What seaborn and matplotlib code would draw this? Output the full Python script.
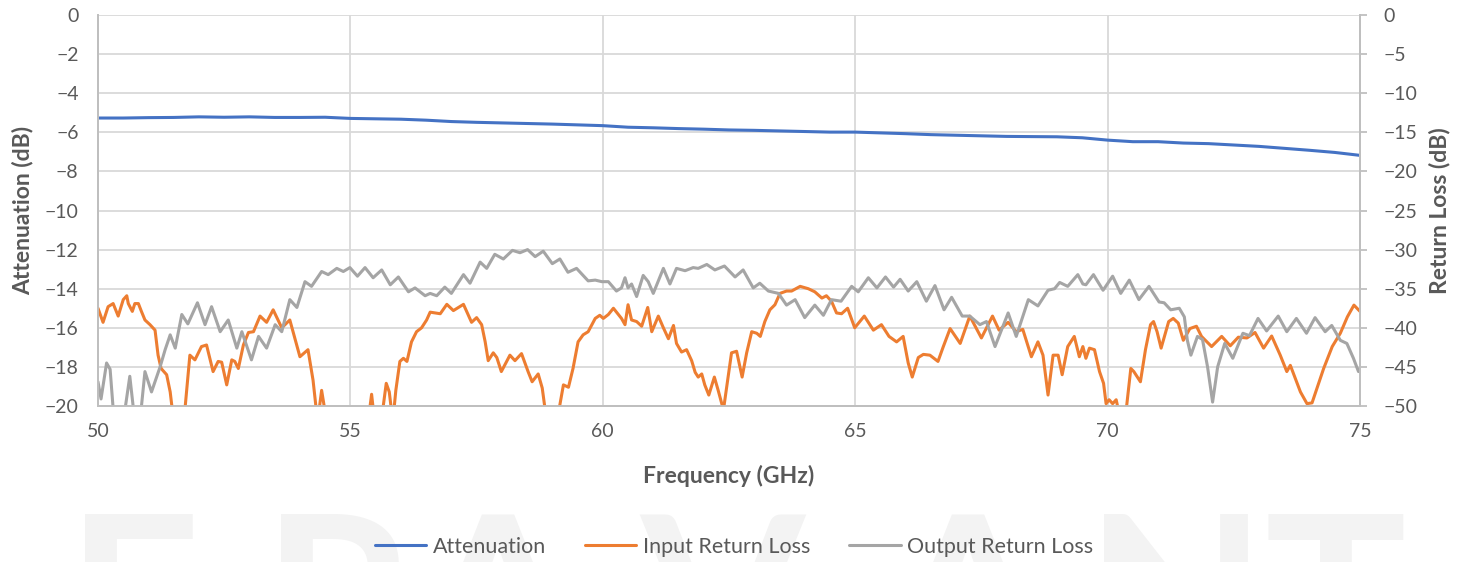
import numpy as np
import pandas as pd
import matplotlib
matplotlib.use("Agg")
import matplotlib.pyplot as plt
import seaborn as sns

# Attenuation (left axis, dB)
att_freq = [50, 50.5, 51, 51.5, 52, 52.5, 53, 53.5, 54, 54.5, 55, 55.5, 56, 56.5, 57, 57.5,
            58, 58.5, 59, 59.5, 60, 60.5, 61, 61.5, 62, 62.5, 63, 63.5, 64, 64.5, 65, 65.5,
            66, 66.5, 67, 67.5, 68, 68.5, 69, 69.5, 70, 70.5, 71, 71.5, 72, 72.5, 73, 73.5,
            74, 74.5, 75]
att_db = [-5.27, -5.27, -5.25, -5.24, -5.21, -5.23, -5.21, -5.24, -5.24, -5.23, -5.29, -5.31,
          -5.33, -5.38, -5.45, -5.49, -5.52, -5.55, -5.58, -5.62, -5.66, -5.74, -5.77, -5.81,
          -5.84, -5.88, -5.90, -5.93, -5.96, -5.99, -5.99, -6.03, -6.07, -6.12, -6.15, -6.18,
          -6.21, -6.22, -6.23, -6.28, -6.40, -6.48, -6.48, -6.55, -6.58, -6.65, -6.72, -6.82,
          -6.92, -7.03, -7.18]

# Input return loss (right axis, dB)
in_freq = [50.00, 50.10, 50.20, 50.30, 50.40, 50.50, 50.57, 50.60, 50.68, 50.73, 50.80, 50.86,
           50.93, 51.03, 51.13, 51.19, 51.25, 51.36, 51.43, 51.50, 51.70, 51.82, 51.92, 52.05,
           52.15, 52.28, 52.38, 52.45, 52.55, 52.65, 52.71, 52.78, 52.88, 52.98, 53.08, 53.21,
           53.34, 53.47, 53.64, 53.80, 54.00, 54.16, 54.26, 54.35, 54.43, 54.53, 55.35, 55.42,
           55.48, 55.61, 55.71, 55.77, 55.84, 55.90, 55.98, 56.05, 56.12, 56.21, 56.31, 56.41,
           56.51, 56.58, 56.68, 56.78, 56.91, 57.04, 57.24, 57.40, 57.50, 57.60, 57.67, 57.73,
           57.83, 57.90, 57.99, 58.16, 58.26, 58.39, 58.52, 58.60, 58.72, 58.80, 58.89, 59.09,
           59.22, 59.32, 59.41, 59.51, 59.61, 59.71, 59.85, 59.94, 60.01, 60.11, 60.21, 60.31,
           60.37, 60.44, 60.50, 60.57, 60.67, 60.77, 60.89, 60.97, 61.10, 61.20, 61.30, 61.40,
           61.46, 61.56, 61.66, 61.76, 61.83, 61.89, 61.96, 62.02, 62.10, 62.21, 62.29, 62.39,
           62.55, 62.65, 62.76, 62.85, 62.95, 63.05, 63.12, 63.21, 63.31, 63.41, 63.51, 63.64,
           63.74, 63.91, 64.07, 64.20, 64.34, 64.43, 64.53, 64.63, 64.73, 64.85, 64.99, 65.18,
           65.36, 65.52, 65.67, 65.82, 65.95, 66.05, 66.13, 66.25, 66.35, 66.48, 66.64, 66.74,
           66.88, 67.08, 67.27, 67.50, 67.72, 67.85, 68.03, 68.19, 68.32, 68.49, 68.62, 68.72,
           68.82, 68.92, 69.02, 69.10, 69.21, 69.34, 69.44, 69.51, 69.57, 69.64, 69.74, 69.84,
           69.92, 69.97, 70.03, 70.10, 70.17, 70.23, 70.36, 70.46, 70.52, 70.65, 70.75, 70.85,
           70.91, 70.98, 71.06, 71.21, 71.30, 71.40, 71.50, 71.63, 71.76, 71.86, 72.06, 72.26,
           72.43, 72.59, 72.76, 72.92, 73.09, 73.25, 73.42, 73.55, 73.62, 73.72, 73.82, 73.95,
           74.05, 74.15, 74.28, 74.45, 74.61, 74.75, 74.88, 75.00]
in_rl = [-37.5, -39.3, -37.3, -36.9, -38.5, -36.4, -35.9, -36.9, -37.9, -36.9, -36.9, -37.9,
         -39.0, -39.6, -40.3, -43.5, -45.2, -46.0, -48.2, -52.0, -52.0, -43.5, -44.1, -42.4,
         -42.2, -45.6, -44.3, -44.4, -47.3, -44.1, -44.3, -45.2, -42.2, -40.6, -40.5, -38.5,
         -39.3, -37.7, -40.0, -39.0, -43.7, -42.8, -46.7, -52.0, -48.0, -52.0, -52.0, -48.5,
         -52.0, -52.0, -47.1, -48.2, -52.0, -48.0, -44.3, -43.9, -44.3, -41.8, -40.5, -40.0,
         -39.0, -38.0, -38.1, -38.2, -37.0, -37.8, -37.0, -39.3, -38.7, -39.6, -41.8, -44.2,
         -43.2, -43.8, -45.6, -43.5, -44.2, -43.3, -45.6, -46.9, -45.9, -47.7, -52.0, -52.0,
         -47.3, -47.6, -45.2, -41.8, -40.9, -40.5, -38.8, -38.4, -38.8, -38.3, -37.5, -38.3,
         -38.8, -39.6, -37.05, -39.0, -39.2, -39.8, -37.4, -40.5, -38.5, -40.0, -41.4, -39.7,
         -42.0, -43.1, -42.8, -44.2, -45.7, -46.3, -45.9, -47.3, -48.6, -46.3, -48.1, -50.5,
         -43.2, -43.0, -46.3, -43.2, -40.5, -40.7, -41.1, -39.2, -37.7, -37.05, -35.6, -35.3,
         -35.3, -34.7, -35.0, -35.4, -36.2, -35.9, -36.6, -38.1, -38.2, -37.5, -40.0, -38.5,
         -40.3, -39.6, -41.1, -41.8, -41.1, -44.5, -46.3, -43.8, -43.4, -43.5, -44.3, -42.5,
         -40.1, -42.0, -38.5, -41.3, -38.5, -40.3, -39.3, -40.5, -40.2, -43.7, -41.8, -43.5,
         -48.6, -43.5, -43.5, -46.0, -42.4, -41.1, -43.7, -42.4, -43.9, -42.6, -42.8, -45.6,
         -47.1, -49.7, -49.2, -49.7, -49.2, -51.0, -51.0, -45.2, -45.6, -46.9, -42.8, -39.6,
         -39.2, -40.5, -42.6, -39.2, -38.8, -39.4, -41.6, -40.1, -39.8, -41.1, -42.4, -41.1,
         -42.3, -41.2, -41.3, -40.6, -42.6, -41.05, -43.5, -45.6, -44.8, -46.5, -48.2, -49.7,
         -49.6, -47.7, -45.2, -42.4, -40.7, -38.6, -37.1, -37.9]

# Output return loss (right axis, dB)
out_freq = [50.00, 50.06, 50.17, 50.24, 50.32, 50.50, 50.63, 50.73, 50.83, 50.93, 51.06, 51.23,
            51.33, 51.43, 51.53, 51.66, 51.78, 51.97, 52.12, 52.25, 52.42, 52.58, 52.75, 52.85,
            53.04, 53.18, 53.34, 53.51, 53.64, 53.80, 53.94, 54.10, 54.23, 54.43, 54.56, 54.73,
            54.86, 54.99, 55.14, 55.29, 55.45, 55.62, 55.79, 55.95, 56.15, 56.28, 56.48, 56.58,
            56.71, 56.87, 57.00, 57.24, 57.37, 57.57, 57.70, 57.86, 58.03, 58.21, 58.36, 58.51,
            58.66, 58.82, 59.00, 59.15, 59.31, 59.48, 59.71, 59.85, 59.98, 60.11, 60.27, 60.37,
            60.44, 60.50, 60.57, 60.67, 60.80, 60.90, 61.00, 61.20, 61.33, 61.46, 61.63, 61.79,
            61.89, 62.06, 62.22, 62.41, 62.62, 62.78, 62.98, 63.11, 63.28, 63.48, 63.64, 63.81,
            64.00, 64.20, 64.37, 64.53, 64.72, 64.93, 65.06, 65.26, 65.43, 65.60, 65.76, 65.89,
            66.05, 66.22, 66.41, 66.58, 66.76, 66.91, 67.12, 67.27, 67.47, 67.60, 67.77, 68.03,
            68.19, 68.43, 68.62, 68.82, 68.95, 69.05, 69.21, 69.41, 69.51, 69.57, 69.72, 69.91,
            70.10, 70.26, 70.43, 70.62, 70.82, 71.02, 71.12, 71.25, 71.42, 71.52, 71.58, 71.65,
            71.78, 71.88, 71.98, 72.08, 72.18, 72.32, 72.48, 72.68, 72.81, 72.98, 73.15, 73.38,
            73.55, 73.74, 73.94, 74.11, 74.31, 74.44, 74.61, 74.74, 74.87, 74.97, 75.00]
out_rl = [-46.9, -49.1, -44.5, -45.3, -52.0, -52.0, -46.2, -52.0, -52.0, -45.6, -48.2, -45.0,
          -42.8, -40.9, -42.6, -38.3, -39.5, -36.8, -39.6, -37.3, -40.5, -39.0, -42.6, -40.5,
          -44.1, -41.1, -42.6, -39.6, -40.5, -36.4, -37.4, -34.1, -34.7, -32.8, -33.2, -32.4,
          -32.8, -32.3, -33.4, -32.3, -33.6, -32.6, -34.5, -33.5, -35.4, -34.9, -35.9, -35.6,
          -35.9, -34.8, -35.6, -33.2, -34.3, -31.6, -32.4, -30.6, -31.2, -30.1, -30.4, -30.0,
          -30.9, -30.2, -31.8, -31.2, -32.9, -32.4, -34.0, -33.9, -34.1, -34.1, -35.3, -34.9,
          -33.6, -34.9, -34.4, -36.0, -33.3, -34.1, -35.6, -32.4, -34.4, -32.4, -32.7, -32.3,
          -32.4, -31.9, -32.6, -32.1, -33.5, -32.6, -34.9, -34.3, -35.3, -35.6, -37.1, -36.4,
          -38.7, -37.1, -38.4, -36.4, -36.6, -34.7, -35.4, -33.6, -34.9, -33.5, -34.8, -33.8,
          -35.3, -34.1, -36.6, -34.6, -37.7, -36.1, -38.5, -38.5, -39.6, -39.2, -42.4, -38.1,
          -41.1, -36.4, -37.2, -35.2, -35.0, -34.2, -34.7, -33.2, -34.4, -34.5, -33.2, -35.2,
          -33.4, -35.6, -33.9, -36.4, -34.7, -36.7, -36.8, -37.7, -37.5, -38.6, -41.6, -43.5,
          -41.1, -41.5, -45.0, -49.5, -45.0, -42.0, -43.9, -40.7, -41.0, -38.8, -40.4, -38.5,
          -40.5, -38.8, -40.7, -38.7, -40.5, -39.7, -41.6, -42.0, -43.9, -45.6, -45.2]

blue = "#4472C4"
orange = "#ED7D31"
grey = "#A5A5A5"
text_col = "#595959"
grid_col = "#D9D9D9"

sns.set_theme(style="white")
plt.rcParams['font.family'] = ['Lato', 'DejaVu Sans']

fig = plt.figure(figsize=(14.68, 5.62), dpi=100)

# faint watermark letters behind the legend
for letter, xpx in zip("ERAVANT", [66, 262, 415, 640, 885, 1085, 1265]):
    fig.text(xpx / 1468, 1 - 510 / 562, letter, fontsize=170, fontweight='bold',
             color='#F3F3F3', ha='left', va='top', zorder=0)

ax = fig.add_axes([98 / 1468, 1 - 406 / 562, (1360 - 98) / 1468, (406 - 15) / 562])
ax.patch.set_alpha(0)
ax2 = ax.twinx()

line_kw = dict(linewidth=2.2, estimator=None, legend=False,
               solid_joinstyle='round', solid_capstyle='round')
sns.lineplot(x=att_freq, y=att_db, ax=ax, color=blue, label='Attenuation', **line_kw)
sns.lineplot(x=in_freq, y=in_rl, ax=ax2, color=orange, label='Input Return Loss', **line_kw)
sns.lineplot(x=out_freq, y=out_rl, ax=ax2, color=grey, label='Output Return Loss', **line_kw)

ax.set_xlim(50, 75)
ax.set_ylim(-20, 0)
ax2.set_ylim(-50, 0)
ax.set_xticks(np.arange(50, 76, 5))
ax.set_yticks(np.arange(-20, 1, 2))
ax2.set_yticks(np.arange(-50, 1, 5))

ax.grid(True, color=grid_col, linewidth=1.3)
ax.set_axisbelow(True)

for a in (ax, ax2):
    a.spines['top'].set_visible(False)
    for side in ('left', 'right', 'bottom'):
        a.spines[side].set_color('#BFBFBF')
        a.spines[side].set_linewidth(1.3)

ax.tick_params(axis='y', labelsize=14, colors=text_col, length=0, pad=14)
ax.tick_params(axis='x', labelsize=14, colors=text_col, length=0, pad=12)
ax2.tick_params(axis='y', labelsize=14, labelcolor=text_col, color='#BFBFBF',
                length=5, width=1.3, direction='out', pad=12)

ax.set_xlabel('Frequency (GHz)', fontsize=16.5, fontweight='bold', color=text_col, labelpad=18)
ax.set_ylabel('Attenuation (dB)', fontsize=16.5, fontweight='bold', color=text_col, labelpad=8)
ax2.set_ylabel('Return Loss (dB)', fontsize=16.5, fontweight='bold', color=text_col, labelpad=8)

h1, l1 = ax.get_legend_handles_labels()
h2, l2 = ax2.get_legend_handles_labels()
leg = fig.legend(h1 + h2, l1 + l2, loc='center', bbox_to_anchor=(0.5, 1 - 547 / 562),
                 ncol=3, frameon=False, fontsize=15.5, handlelength=2.4,
                 columnspacing=1.8, handletextpad=0.3)
for t in leg.get_texts():
    t.set_color(text_col)

fig.savefig('out.png', dpi=100)
